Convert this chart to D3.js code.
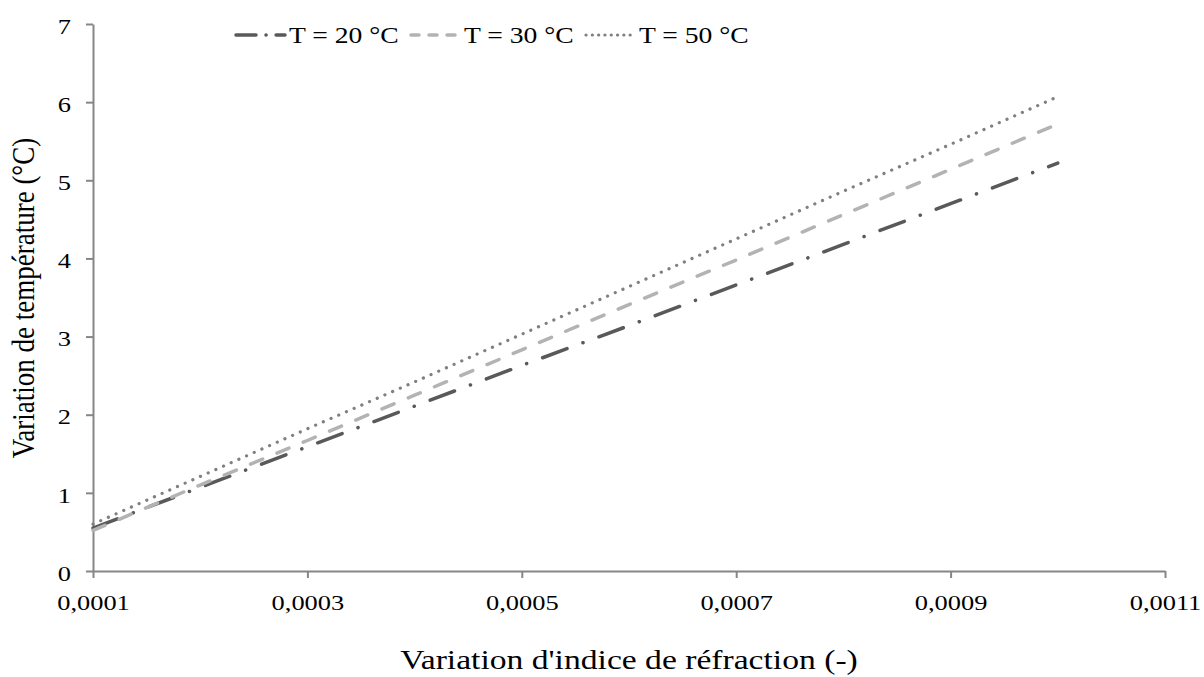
<!DOCTYPE html>
<html>
<head>
<meta charset="utf-8">
<script src="https://cdn.jsdelivr.net/npm/d3@7"></script>
<style>
  body { margin: 0; background: #fff; }
  svg text { font-family: "Liberation Serif", "Times New Roman", serif; }
</style>
</head>
<body>
<div id="chart"></div>
<script>
/* Temperature variation vs refractive index variation */

const xValues = [0.0001, 0.0002, 0.0003, 0.0004, 0.0005, 0.0006, 0.0007, 0.0008, 0.0009, 0.0010];
const t20 = [0.55, 1.07, 1.59, 2.11, 2.63, 3.14, 3.66, 4.18, 4.70, 5.22];
const t30 = [0.52, 1.10, 1.67, 2.25, 2.83, 3.41, 3.98, 4.56, 5.14, 5.72];
const t50 = [0.60, 1.21, 1.82, 2.42, 3.03, 3.64, 4.25, 4.86, 5.46, 6.07];
const seriesNames = ["T = 20 °C", "T = 30 °C", "T = 50 °C"];
const xTicks = [0.0001, 0.0003, 0.0005, 0.0007, 0.0009, 0.0011];
const yTicks = [0, 1, 2, 3, 4, 5, 6, 7];

const width = 1204, height = 677;
const margin = { top: 24, right: 39, bottom: 106, left: 93 };
const stretch = 1.2; // the reference text is drawn a bit wide

const series = [
  { name: seriesNames[0], values: t20, color: "#595959", dash: "26,17,0.1,17", legendDash: "20,10,0.1,10", width: 3.5 },
  { name: seriesNames[1], values: t30, color: "#b3b3b3", dash: "13,15.5", legendDash: "8,10", width: 3.5 },
  { name: seriesNames[2], values: t50, color: "#808080", dash: "0.1,8.3", legendDash: "0.1,6.2", width: 3.2 }
];

const svg = d3.select("#chart")
  .append("svg")
  .attr("width", width)
  .attr("height", height);

const x = d3.scaleLinear()
  .domain([0.0001, 0.0011])
  .range([margin.left, width - margin.right]);

const y = d3.scaleLinear()
  .domain([0, 7])
  .range([height - margin.bottom, margin.top]);

const fmt = d => d.toFixed(4).replace(".", ",");

// widen horizontal text like the reference
function widen(sel) {
  sel.each(function() {
    const w = this.getComputedTextLength();
    d3.select(this)
      .attr("textLength", w * stretch)
      .attr("lengthAdjust", "spacingAndGlyphs");
  });
}

// Axes
svg.append("g")
  .attr("transform", `translate(0, ${y(0)})`)
  .call(d3.axisBottom(x).tickValues(xTicks).tickFormat(fmt).tickSize(7).tickSizeOuter(0))
  .call(g => g.selectAll("line").attr("stroke", "#868686").attr("stroke-width", 2))
  .call(g => g.select(".domain").attr("stroke", "#868686").attr("stroke-width", 2))
  .call(g => g.selectAll("text")
    .attr("fill", "#000")
    .style("font-size", "22px")
    .style("font-family", "Liberation Serif")
    .attr("y", 39)
    .attr("dy", 0)
    .call(widen));

svg.append("g")
  .attr("transform", `translate(${x(0.0001)}, 0)`)
  .call(d3.axisLeft(y).tickValues(yTicks).tickFormat(d3.format("d")).tickSize(7).tickSizeOuter(0))
  .call(g => g.selectAll("line").attr("stroke", "#868686").attr("stroke-width", 2))
  .call(g => g.select(".domain").attr("stroke", "#868686").attr("stroke-width", 2))
  .call(g => g.selectAll("text")
    .attr("fill", "#000")
    .style("font-size", "22px")
    .style("font-family", "Liberation Serif")
    .attr("x", -22)
    .attr("dy", "0.42em")
    .call(widen));

// Axis titles
svg.append("text")
  .attr("x", 629)
  .attr("y", 669)
  .attr("text-anchor", "middle")
  .style("font-size", "28px")
  .attr("fill", "#000")
  .text("Variation d'indice  de réfraction (-)")
  .call(widen);

svg.append("text")
  .attr("transform", `translate(34, 298) scale(${stretch}, 1) rotate(-90)`)
  .attr("text-anchor", "middle")
  .style("font-size", "27px")
  .attr("fill", "#000")
  .text("Variation de température (°C)");

// Lines
const line = d3.line()
  .x((d, i) => x(xValues[i]))
  .y(d => y(d));

svg.selectAll("path.series")
  .data(series)
  .join("path")
  .attr("class", "series")
  .attr("d", d => line(d.values))
  .attr("fill", "none")
  .attr("stroke", d => d.color)
  .attr("stroke-width", d => d.width)
  .attr("stroke-dasharray", d => d.dash)
  .attr("stroke-linecap", "round");

// Legend
const legendX = [236, 411, 586];
const legend = svg.selectAll("g.legend")
  .data(series)
  .join("g")
  .attr("class", "legend")
  .attr("transform", (d, i) => `translate(${legendX[i]}, 35)`);

legend.append("line")
  .attr("x1", 0)
  .attr("x2", 49)
  .attr("stroke", d => d.color)
  .attr("stroke-width", d => d.width)
  .attr("stroke-dasharray", d => d.legendDash)
  .attr("stroke-linecap", "round");

legend.append("text")
  .attr("x", 53)
  .attr("y", 8)
  .style("font-size", "23px")
  .attr("fill", "#000")
  .text(d => d.name)
  .call(widen);
</script>
</body>
</html>
